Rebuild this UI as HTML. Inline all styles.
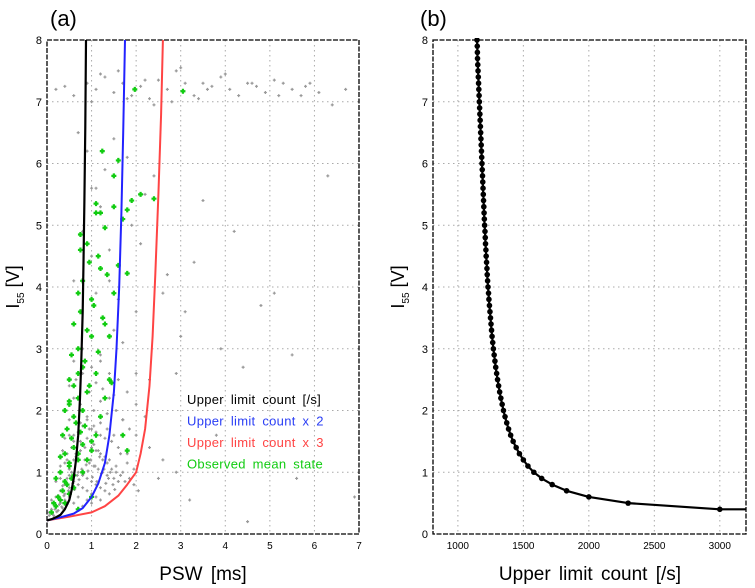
<!DOCTYPE html>
<html><head><meta charset="utf-8"><style>
body{margin:0;background:#fff}
svg{display:block;font-family:"Liberation Sans",sans-serif}
</style></head><body>
<svg id="chart" width="755" height="588" viewBox="0 0 755 588">
<g id="pa"></g>
<g id="pb"></g>
</svg>
<script>
// Panel (a) data
const blackPsw=[0,0.1,0.2,0.3,0.4,0.5,0.55,0.6,0.65,0.7,0.74,0.77,0.8,0.82,0.84,0.86,0.875];
const blackI=[0.22,0.24,0.27,0.31,0.4,0.55,0.7,0.9,1.2,1.6,2.2,2.8,3.6,4.4,5.4,6.6,8];
const bluePsw=[0,0.3,0.6,0.8,1.0,1.15,1.3,1.4,1.5,1.56,1.62,1.67,1.71,1.75];
const blueI=[0.22,0.27,0.33,0.42,0.6,0.82,1.15,1.6,2.3,3.0,4.0,5.2,6.5,8];
const redPsw=[0,0.5,1.0,1.3,1.6,1.8,2.0,2.1,2.2,2.3,2.37,2.43,2.5,2.56,2.6];
const redI=[0.22,0.28,0.35,0.45,0.62,0.8,1.0,1.3,1.7,2.4,3.2,4.2,5.5,6.8,8];
const grayPsw=[0.2,0.4,0.6,0.9,1.1,1.3,1.5,1.7,1.9,2.1,2.3,2.5,2.7,2.9,3.1,3.3,3.5,3.7,3.9,4.1,4.3,4.5,4.7,4.9,5.1,5.3,5.5,5.7,5.9,6.1,6.4,6.7,1.0,1.6,2.2,2.8,3.4,4.0,4.6,5.2,5.8,1.2,1.8,2.4,3.0,3.6,
0.7,0.9,1.1,1.3,1.5,0.8,1.0,1.2,1.4,1.6,1.9,2.1,2.4,2.7,3.1,3.5,4.2,4.8,5.5,6.3,0.9,1.2,1.7,2.0,2.3,2.9,3.3,3.9,4.4,5.1,1.0,1.4,1.8,2.2,2.6,3.0,0.6,1.1,1.5,2.0,
0.05,0.1,0.15,0.2,0.25,0.3,0.35,0.4,0.45,0.5,0.1,0.2,0.3,0.4,0.5,0.6,0.7,0.8,0.9,1.0,0.2,0.3,0.4,0.5,0.6,0.7,0.8,0.9,1.0,1.1,1.2,0.3,0.4,0.5,0.6,0.7,0.8,0.9,1.0,1.1,1.2,1.3,1.4,0.35,0.45,0.55,0.65,0.75,0.85,0.95,1.05,1.15,1.25,1.35,1.5,1.6,0.4,0.5,0.6,0.7,0.8,0.9,1.0,1.1,1.2,1.3,1.4,1.55,1.7,0.5,0.6,0.7,0.8,0.9,1.0,1.1,1.2,1.3,1.45,1.6,1.8,0.6,0.75,0.9,1.05,1.2,1.35,1.5,1.7,2.0,2.3,2.6,
2.5,3.2,4.5,5.6,6.9,3.8,2.9];
const grayI=[7.2,7.25,7.1,7.3,7.2,7.4,7.15,7.3,7.1,7.25,7.05,7.35,7.2,7.5,7.3,7.1,7.3,7.25,7.4,7.2,7.1,7.3,7.25,7.15,7.35,7.3,7.2,7.1,7.3,7.15,6.95,7.2,7.0,7.5,7.35,7.0,7.05,7.45,7.3,7.1,7.25,7.45,7.05,6.95,7.55,7.2,
6.5,6.2,5.6,5.9,6.4,4.9,4.5,5.3,4.1,3.8,5.0,4.7,5.8,4.2,3.6,5.4,4.9,3.7,2.9,5.8,3.3,2.8,3.1,3.6,2.5,2.6,4.4,3.0,2.7,3.9,5.6,4.6,6.1,5.5,3.9,3.2,4.1,3.9,3.3,2.6,
0.35,0.4,0.3,0.45,0.38,0.5,0.42,0.55,0.48,0.6,0.55,0.6,0.7,0.65,0.75,0.5,0.6,0.45,0.55,0.5,0.85,0.9,0.8,0.95,0.85,0.8,0.75,0.7,0.65,0.6,0.55,1.1,1.15,1.05,1.2,1.0,0.95,0.9,0.85,0.8,0.75,0.7,0.65,1.35,1.3,1.4,1.25,1.35,1.2,1.15,1.1,1.05,1.0,0.95,0.9,0.85,1.55,1.6,1.5,1.65,1.45,1.55,1.4,1.35,1.3,1.25,1.2,1.1,1.0,1.85,1.9,1.8,1.75,1.85,1.7,1.65,1.6,1.55,1.5,1.4,1.3,2.2,2.1,2.3,2.0,2.15,1.95,2.25,1.85,1.6,1.4,1.2,
0.9,0.55,0.2,0.9,0.6,1.6,1.0];
const grayPsw2=[0.05,0.12,0.18,0.22,0.28,0.33,0.38,0.42,0.48,0.52,0.58,0.62,0.68,0.72,0.78,0.82,0.88,0.92,0.98,1.02,1.08,1.12,1.18,1.22,1.28,1.32,1.38,1.42,1.48,1.52,0.15,0.25,0.35,0.45,0.55,0.65,0.75,0.85,0.95,1.05,1.15,1.25,1.35,1.45,1.55,1.65,1.75,1.85,1.95,2.05,0.3,0.45,0.6,0.75,0.9,1.05,1.2,1.35,1.5,1.65,1.8,1.95,0.5,0.65,0.8,0.95,1.1,1.25,1.4,1.55,1.7,1.85,0.6,0.8,1.0,1.2,1.4,1.6,1.8,2.0,2.2];
const grayI2=[0.3,0.33,0.4,0.36,0.48,0.44,0.62,0.52,0.7,0.66,0.82,0.72,0.95,0.88,1.05,0.98,1.12,1.02,1.2,0.92,1.1,0.85,1.25,0.98,1.05,0.82,0.9,1.0,0.8,0.72,0.5,0.62,0.78,0.9,1.0,1.3,1.5,1.4,1.7,1.45,1.35,1.2,1.15,1.05,1.0,0.95,0.85,0.9,0.8,0.7,1.0,1.2,1.6,1.8,1.9,1.75,1.8,1.7,1.6,1.3,1.15,1.05,2.4,2.5,2.6,2.3,2.45,2.35,2.2,2.0,1.85,1.7,2.8,3.0,2.7,2.9,2.6,2.5,2.3,2.1,1.9];
const greenPsw=[0.1,0.15,0.2,0.25,0.3,0.35,0.4,0.45,0.5,0.55,0.6,0.2,0.3,0.4,0.5,0.6,0.7,0.8,0.3,0.4,0.5,0.6,0.7,0.8,0.9,1.0,0.35,0.45,0.55,0.65,0.75,0.85,1.0,1.1,0.4,0.5,0.6,0.7,0.8,0.9,1.2,0.5,0.6,0.7,0.8,0.95,1.1,1.3,1.45,0.55,0.7,0.85,1.0,1.15,1.3,0.6,0.75,0.9,1.05,1.25,1.4,0.7,0.8,1.0,1.2,1.5,0.75,0.95,1.15,1.35,1.6,0.9,1.1,1.3,1.5,1.8,0.75,1.2,1.24,1.7,1.1,1.5,1.9,2.1,1.4,1.6,1.8,2.4,1.8,1.7,0.5,0.7,1.0,1.97,3.05];
const greenI=[0.35,0.5,0.45,0.6,0.55,0.7,0.5,0.8,0.65,0.9,0.75,0.9,1.0,0.85,1.1,0.95,1.2,1.0,1.25,1.3,1.15,1.4,1.3,1.45,1.2,1.35,1.6,1.7,1.55,1.8,1.65,1.75,1.5,1.6,2.0,2.1,1.9,2.2,2.0,2.3,1.9,2.5,2.4,2.6,2.7,2.4,2.6,2.2,2.45,2.9,3.0,2.8,3.2,2.95,3.4,3.4,3.6,3.3,3.7,3.5,3.2,3.9,4.1,3.8,4.3,3.9,4.6,4.4,4.5,4.2,4.35,4.7,5.2,4.96,5.3,4.22,4.85,5.2,6.2,5.1,5.35,5.8,5.4,5.5,2.5,6.05,5.25,5.43,1.35,1.6,2.15,0.4,0.6,7.2,7.17];
const aXTicks=[0,1,2,3,4,5,6,7];
const yTicks=[0,1,2,3,4,5,6,7,8];
// Panel (b) data
const bCount=[3000,2300,2000,1830,1720,1640,1580,1535,1500,1470,1445,1422,1403,1387,1373,1360,1348,1338,1328,1319,1311,1303,1296,1289,1283,1277,1271,1266,1261,1257,1253,1249,1245,1241,1237,1234,1230,1227,1224,1222,1219,1216,1214,1211,1209,1207,1204,1202,1200,1198,1196,1194,1192,1190,1188,1186,1184,1182,1180,1178,1176,1174,1172,1170,1168,1166,1164,1162,1160,1158,1156,1154,1152,1150,1149,1148,1146];
const bI=[0.4,0.5,0.6,0.7,0.8,0.9,1.0,1.1,1.2,1.3,1.4,1.5,1.6,1.7,1.8,1.9,2.0,2.1,2.2,2.3,2.4,2.5,2.6,2.7,2.8,2.9,3.0,3.1,3.2,3.3,3.4,3.5,3.6,3.7,3.8,3.9,4.0,4.1,4.2,4.3,4.4,4.5,4.6,4.7,4.8,4.9,5.0,5.1,5.2,5.3,5.4,5.5,5.6,5.7,5.8,5.9,6.0,6.1,6.2,6.3,6.4,6.5,6.6,6.7,6.8,6.9,7.0,7.1,7.2,7.3,7.4,7.5,7.6,7.7,7.8,7.9,8.0];
const bXTicks=[1000,1500,2000,2500,3000];

const NS='http://www.w3.org/2000/svg';
function mk(p,t,a){const e=document.createElementNS(NS,t);for(const k in a)e.setAttribute(k,a[k]);p.appendChild(e);return e;}
const Y0=534,Y1=40;
const ys=v=>Y0+(Y1-Y0)*v/8;
const ax=v=>47+(359-47)*v/7;
const bx=v=>433+(v-810)*(746-433)/(3200-810);

function frame(g,L,R,vt,xs,ylabelX){
  vt.forEach(t=>{const x=xs(t);if(x>L+1&&x<R-1){const l=mk(g,'line',{x1:x,y1:Y1,x2:x,y2:Y0,stroke:'#aaa','stroke-dasharray':'1.5,3.5','stroke-width':1});
  
  }
  const tx=mk(g,'text',{x:x,y:Y0+15,'font-size':10,'text-anchor':'middle',fill:'#000'});tx.textContent=t;
  
  });
  yTicks.forEach(t=>{const y=ys(t);if(t>0&&t<8){const l=mk(g,'line',{x1:L,y1:y,x2:R,y2:y,stroke:'#aaa','stroke-dasharray':'1.5,3.5','stroke-width':1});
  
  }
  const tx=mk(g,'text',{x:L-5,y:y+4,'font-size':11,'text-anchor':'end',fill:'#000'});tx.textContent=t;
  
  });
  const r=mk(g,'rect',{x:L,y:Y1,width:R-L,height:Y0-Y1,fill:'none',stroke:'#000','stroke-width':1.3,'stroke-dasharray':'5,1.5'});
  
  
  const yl=mk(g,'text',{transform:`translate(${ylabelX},287) rotate(-90)`,'font-size':18,'text-anchor':'middle',fill:'#000'});
  yl.innerHTML='I<tspan font-size="10" dy="5">55</tspan><tspan dy="-5"> [V]</tspan>';
  
  
}
function line(g,xs,ysArr,xf,col,w,name){
  const d=xs.map((v,i)=>(i?'L':'M')+xf(v).toFixed(1)+','+ys(ysArr[i]).toFixed(1)).join('');
  const p=mk(g,'path',{d:d,fill:'none',stroke:col,'stroke-width':w,'stroke-linejoin':'round'});
  
  
  return p;
}
function cross(g,x,y,s,col,w,name){
  const p=mk(g,'path',{d:`M${x-s},${y}h${2*s}M${x},${y-s}v${2*s}`,stroke:col,'stroke-width':w});
  
  
}

// Panel a
const pa=document.getElementById('pa');
const clipA=mk(pa,'clipPath',{id:'ca'});mk(clipA,'rect',{x:47,y:40,width:312,height:494});
frame(pa,47,359,aXTicks,ax,19);
const ga=mk(pa,'g',{'clip-path':'url(#ca)'});
grayPsw.forEach((v,i)=>cross(ga,ax(v),ys(grayI[i]),1.5,'#999',1.2,'gray-point'));
grayPsw2.forEach((v,i)=>cross(ga,ax(v),ys(grayI2[i]),1.5,'#999',1.2,'gray-point'));
greenPsw.forEach((v,i)=>cross(ga,ax(v),ys(greenI[i]),2.5,'#1c1',2.2,'observed-mean-point'));
line(ga,redPsw,redI,ax,'#f44',2,'upper-limit-x3-line');
line(ga,bluePsw,blueI,ax,'#22f',2,'upper-limit-x2-line');
line(ga,blackPsw,blackI,ax,'#000',2.2,'upper-limit-line');
[['Upper limit count [/s]','#000','legend-upper-limit'],['Upper limit count x 2','#2a3ef5','legend-upper-limit-x2'],['Upper limit count x 3','#f44','legend-upper-limit-x3'],['Observed mean state','#1c1','legend-observed-mean']].forEach((l,i)=>{
  const t=mk(pa,'text',{x:187,y:404+i*21.5,'font-size':13,fill:l[1],'word-spacing':'3px','letter-spacing':'0.3px'});t.textContent=l[0];
  
  });
let t=mk(pa,'text',{x:203,y:580,'font-size':19,'text-anchor':'middle',fill:'#000','word-spacing':'3px'});t.textContent='PSW [ms]';


t=mk(pa,'text',{x:50,y:26,'font-size':22,fill:'#000'});t.textContent='(a)';



// Panel b
const pb=document.getElementById('pb');
const clipB=mk(pb,'clipPath',{id:'cb'});mk(clipB,'rect',{x:433,y:38,width:313,height:496});
frame(pb,433,746,bXTicks,bx,404);
const gb=mk(pb,'g',{'clip-path':'url(#cb)'});
line(gb,[3200].concat(bCount),[bI[0]].concat(bI),bx,'#000',2.2,'limit-curve');
bCount.forEach((v,i)=>{const c=mk(gb,'circle',{cx:bx(v),cy:ys(bI[i]),r:2.8,fill:'#000'});
  
  });
t=mk(pb,'text',{x:590,y:580,'font-size':19,'text-anchor':'middle',fill:'#000','word-spacing':'3px'});t.textContent='Upper limit count [/s]';


t=mk(pb,'text',{x:420,y:26,'font-size':22,fill:'#000'});t.textContent='(b)';


</script>
</body></html>
